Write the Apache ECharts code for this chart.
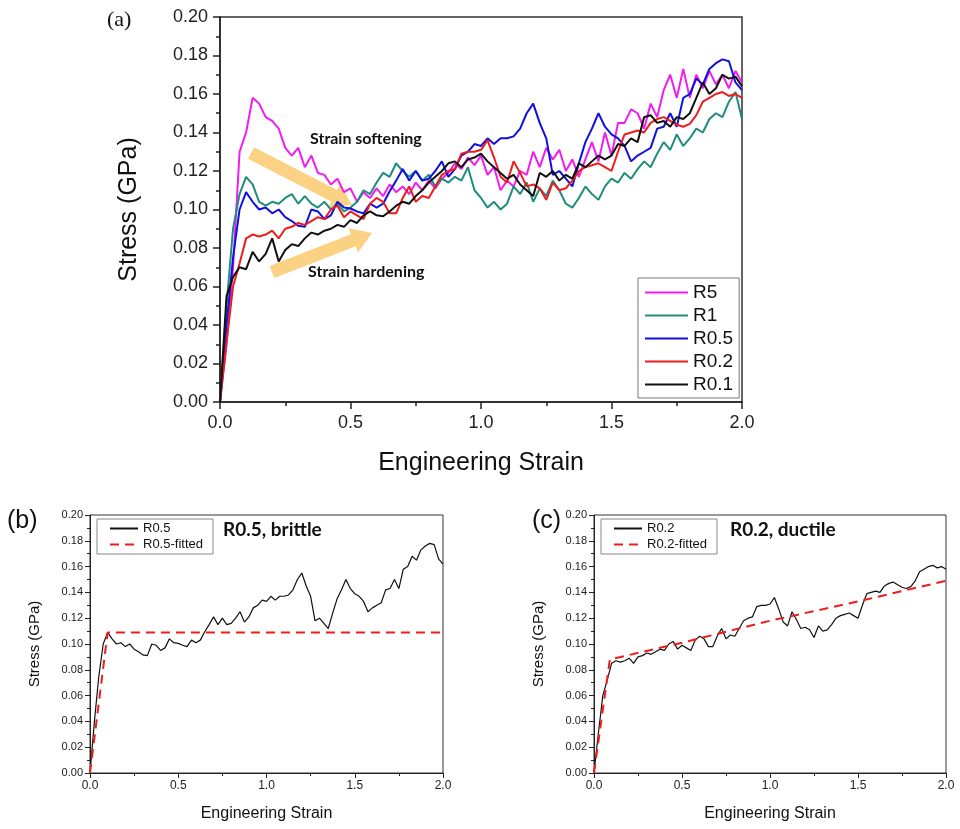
<!DOCTYPE html>
<html>
<head>
<meta charset="utf-8">
<script src="https://cdn.jsdelivr.net/npm/echarts@6/dist/echarts.min.js"></script>
<style>
html, body { margin: 0; padding: 0; background: #fff; }
#chart { width: 960px; height: 829px; }
</style>
</head>
<body>
<div id="chart"></div>
<script>
// strain grid shared by all measured curves
const strain = [0,0.025,0.05,0.075,0.1,0.125,0.15,0.175,0.2,0.225,0.25,0.275,0.3,0.325,0.35,0.375,0.4,0.425,0.45,0.475,
  0.5,0.525,0.55,0.575,0.6,0.625,0.65,0.675,0.7,0.725,0.75,0.775,0.8,0.825,0.85,0.875,0.9,0.925,0.95,0.975,
  1.0,1.025,1.05,1.075,1.1,1.125,1.15,1.175,1.2,1.225,1.25,1.275,1.3,1.325,1.35,1.375,1.4,1.425,1.45,1.475,
  1.5,1.525,1.55,1.575,1.6,1.625,1.65,1.675,1.7,1.725,1.75,1.775,1.8,1.825,1.85,1.875,1.9,1.925,1.95,1.975,2.0]

const stressR5 = [0,0.03,0.07,0.13,0.14,0.158,0.155,0.148,0.146,0.142,
  0.132,0.128,0.132,0.122,0.128,0.119,0.118,0.113,0.116,0.109,
  0.111,0.104,0.109,0.106,0.111,0.107,0.113,0.109,0.112,0.108,
  0.114,0.11,0.115,0.111,0.116,0.119,0.124,0.121,0.127,0.123,
  0.128,0.118,0.122,0.11,0.115,0.112,0.12,0.118,0.13,0.122,
  0.132,0.126,0.131,0.12,0.126,0.117,0.126,0.135,0.125,0.14,
  0.128,0.145,0.145,0.152,0.15,0.142,0.155,0.148,0.162,0.17,
  0.158,0.173,0.158,0.17,0.163,0.172,0.165,0.17,0.163,0.172,0.166]

const stressR1 = [0,0.05,0.09,0.108,0.117,0.113,0.104,0.102,0.104,0.103,
  0.106,0.108,0.103,0.107,0.103,0.101,0.104,0.1,0.103,0.099,
  0.101,0.104,0.11,0.108,0.114,0.119,0.117,0.124,0.12,0.117,
  0.12,0.115,0.118,0.112,0.116,0.114,0.117,0.115,0.122,0.11,
  0.106,0.101,0.104,0.1,0.103,0.112,0.108,0.114,0.104,0.111,
  0.107,0.115,0.11,0.103,0.101,0.106,0.112,0.108,0.105,0.112,
  0.116,0.114,0.119,0.116,0.121,0.125,0.122,0.129,0.135,0.131,
  0.139,0.133,0.137,0.142,0.14,0.147,0.15,0.148,0.156,0.161,0.147]

const stressR05 = [0,0.04,0.075,0.1,0.109,0.104,0.1,0.101,0.098,0.1,
  0.096,0.094,0.0915,0.091,0.1,0.099,0.095,0.097,0.104,0.101,
  0.1005,0.099,0.098,0.103,0.101,0.103,0.1095,0.115,0.121,0.115,
  0.12,0.115,0.116,0.12,0.125,0.117,0.121,0.128,0.13,0.134,
  0.133,0.137,0.134,0.137,0.137,0.138,0.142,0.15,0.155,0.145,
  0.137,0.118,0.12,0.116,0.112,0.124,0.135,0.142,0.15,0.143,
  0.139,0.137,0.133,0.125,0.128,0.13,0.132,0.142,0.143,0.15,
  0.143,0.158,0.16,0.168,0.165,0.173,0.176,0.178,0.177,0.166,0.162]

const stressR02 = [0,0.031,0.06,0.072,0.085,0.087,0.086,0.087,0.089,0.085,
  0.09,0.091,0.093,0.092,0.094,0.096,0.095,0.1,0.102,0.096,
  0.099,0.097,0.095,0.103,0.106,0.104,0.098,0.098,0.106,0.112,
  0.104,0.107,0.106,0.112,0.118,0.12,0.121,0.129,0.13,0.13,
  0.131,0.136,0.127,0.117,0.114,0.125,0.119,0.112,0.113,0.111,
  0.105,0.114,0.11,0.111,0.115,0.12,0.122,0.123,0.124,0.122,
  0.12,0.13,0.139,0.14,0.141,0.14,0.145,0.147,0.148,0.146,
  0.144,0.143,0.1445,0.149,0.156,0.158,0.16,0.161,0.159,0.16,0.158]

const stressR01 = [0,0.055,0.065,0.07,0.069,0.078,0.073,0.077,0.085,0.073,
  0.079,0.082,0.081,0.085,0.088,0.087,0.089,0.09,0.092,0.091,
  0.0945,0.093,0.097,0.099,0.097,0.0965,0.099,0.102,0.104,0.103,
  0.107,0.11,0.114,0.117,0.12,0.124,0.125,0.122,0.126,0.127,
  0.129,0.125,0.122,0.119,0.116,0.118,0.113,0.11,0.107,0.119,
  0.117,0.12,0.115,0.118,0.116,0.124,0.122,0.125,0.128,0.126,
  0.128,0.134,0.133,0.137,0.135,0.148,0.149,0.145,0.146,0.143,
  0.148,0.147,0.15,0.158,0.166,0.16,0.163,0.17,0.168,0.169,0.164]

// fitted curves (b) and (c)
const fitR05Strain = [0, 0.1, 2.0]
const fitR05Stress = [0, 0.109, 0.109]
const fitR02Strain = [0, 0.09, 0.5, 1.0, 1.5, 2.0]
const fitR02Stress = [0, 0.088, 0.101, 0.118, 0.133, 0.149]

const stressTicks = [0, 0.2, 0.02]
const strainTicks = [0, 2.0, 0.5]

const FONT = '"Liberation Sans", Arial, sans-serif'
const BOLD = 'Lato, "Open Sans", sans-serif'
const pair = (xs, ys) => xs.map((x, i) => [x, ys[i]])

function xAxisOf(grid, big) {
  return {
    gridIndex: grid, type: 'value',
    min: strainTicks[0], max: strainTicks[1], interval: strainTicks[2],
    axisLine: { show: true, onZero: false, lineStyle: { color: '#222', width: big ? 1.5 : 1 } },
    axisTick: { show: true, length: big ? 7 : 5, lineStyle: { color: '#222', width: big ? 1.5 : 1 } },
    minorTick: { show: true, splitNumber: 2, length: big ? 4 : 3, lineStyle: { color: '#222', width: big ? 1.5 : 1 } },
    splitLine: { show: false },
    axisLabel: { fontFamily: FONT, color: '#222', fontSize: big ? 18 : 12, margin: big ? 12 : 7,
      formatter: v => v.toFixed(1) },
    name: 'Engineering Strain', nameLocation: 'middle', nameGap: big ? 49 : 33,
    nameTextStyle: { fontFamily: FONT, color: '#111', fontSize: big ? 25 : 16 }
  }
}

function yAxisOf(grid, big) {
  return {
    gridIndex: grid, type: 'value',
    min: stressTicks[0], max: stressTicks[1], interval: stressTicks[2],
    axisLine: { show: true, onZero: false, lineStyle: { color: '#222', width: big ? 1.5 : 1 } },
    axisTick: { show: true, length: big ? 7 : 5, lineStyle: { color: '#222', width: big ? 1.5 : 1 } },
    minorTick: { show: true, splitNumber: 2, length: big ? 4 : 3, lineStyle: { color: '#222', width: big ? 1.5 : 1 } },
    splitLine: { show: false },
    axisLabel: { fontFamily: FONT, color: '#222', fontSize: big ? 18 : 11, margin: big ? 12 : 7,
      formatter: v => v.toFixed(2) },
    name: 'Stress (GPa)', nameLocation: 'middle', nameGap: big ? 78 : 48,
    nameTextStyle: { fontFamily: FONT, color: '#111', fontSize: big ? 25 : 15 }
  }
}

function lineSeries(name, grid, data, color, width, dashed) {
  return {
    name, type: 'line', xAxisIndex: grid, yAxisIndex: grid, data,
    symbol: 'none', showSymbol: false, smooth: false, animation: false,
    lineStyle: { color, width, type: dashed ? [9, 6] : 'solid' },
    itemStyle: { color }
  }
}

// thick arrow polygon for annotations
function arrow(x1, y1, x2, y2) {
  const len = Math.hypot(x2 - x1, y2 - y1)
  const ux = (x2 - x1) / len, uy = (y2 - y1) / len
  const nx = -uy, ny = ux
  const hw = 6.5, hh = 13, hl = 20
  const bx = x2 - ux * hl, by = y2 - uy * hl
  return {
    type: 'polygon', z: 1,
    shape: { points: [
      [x1 + nx * hw, y1 + ny * hw], [bx + nx * hw, by + ny * hw], [bx + nx * hh, by + ny * hh],
      [x2, y2],
      [bx - nx * hh, by - ny * hh], [bx - nx * hw, by - ny * hw], [x1 - nx * hw, y1 - ny * hw]
    ] },
    style: { fill: 'rgba(250,198,100,0.8)' }
  }
}

const label = (x, y, text, size, font, weight) => ({
  type: 'text', x, y, z: 10,
  style: { text, fontSize: size, fontFamily: font, fontWeight: weight || 'normal', fill: '#111',
    textVerticalAlign: 'middle' }
})

const legendBase = {
  orient: 'vertical', selectedMode: false, backgroundColor: '#fff', borderWidth: 1,
  itemStyle: { opacity: 0 }
}

const chart = echarts.init(document.getElementById('chart'))
chart.setOption({
  backgroundColor: '#fff',
  animation: false,
  grid: [
    { left: 220, top: 17, width: 522, height: 385, show: true, borderColor: '#333', borderWidth: 1.5 },
    { left: 90, top: 515, width: 353, height: 258, show: true, borderColor: '#333', borderWidth: 1 },
    { left: 594, top: 515, width: 352, height: 258, show: true, borderColor: '#333', borderWidth: 1 }
  ],
  xAxis: [xAxisOf(0, true), xAxisOf(1, false), xAxisOf(2, false)],
  yAxis: [yAxisOf(0, true), yAxisOf(1, false), yAxisOf(2, false)],
  legend: [
    Object.assign({}, legendBase, {
      data: ['R5', 'R1', 'R0.5', 'R0.2', 'R0.1'], left: 638, top: 278,
      itemWidth: 43, itemHeight: 14, itemGap: 4, padding: [5, 6, 4, 6], borderColor: '#777',
      textStyle: { fontFamily: FONT, fontSize: 19, color: '#111' }
    }),
    Object.assign({}, legendBase, {
      data: ['R0.5 b', 'R0.5-fitted'], left: 97, top: 519,
      itemWidth: 28, itemHeight: 12, itemGap: 3, padding: [3, 10, 3, 12], borderColor: '#888',
      formatter: n => n.replace(/ [bc]$/, ''),
      textStyle: { fontFamily: FONT, fontSize: 13, color: '#111' }
    }),
    Object.assign({}, legendBase, {
      data: ['R0.2 c', 'R0.2-fitted'], left: 601, top: 519,
      itemWidth: 28, itemHeight: 12, itemGap: 3, padding: [3, 10, 3, 12], borderColor: '#888',
      formatter: n => n.replace(/ [bc]$/, ''),
      textStyle: { fontFamily: FONT, fontSize: 13, color: '#111' }
    })
  ],
  series: [
    lineSeries('R5', 0, pair(strain, stressR5), '#f01cf0', 2),
    lineSeries('R1', 0, pair(strain, stressR1), '#1f8c7c', 2),
    lineSeries('R0.5', 0, pair(strain, stressR05), '#1010e0', 2),
    lineSeries('R0.2', 0, pair(strain, stressR02), '#ee1c1c', 2),
    lineSeries('R0.1', 0, pair(strain, stressR01), '#111111', 2),
    lineSeries('R0.5 b', 1, pair(strain, stressR05), '#111111', 1.2),
    lineSeries('R0.5-fitted', 1, pair(fitR05Strain, fitR05Stress), '#ee1c1c', 2, true),
    lineSeries('R0.2 c', 2, pair(strain, stressR02), '#111111', 1.2),
    lineSeries('R0.2-fitted', 2, pair(fitR02Strain, fitR02Stress), '#ee1c1c', 2, true)
  ],
  graphic: [
    arrow(251, 153, 352, 205),
    arrow(272, 272, 372, 233),
    label(310, 139, 'Strain softening', 16, BOLD, 'bold'),
    label(308, 272, 'Strain hardening', 16, BOLD, 'bold'),
    label(107, 20, '(a)', 22, '"Liberation Serif", serif'),
    label(7, 521, '(b)', 25, FONT),
    label(532, 521, '(c)', 25, FONT),
    label(223, 530, 'R0.5, brittle', 19, BOLD, 'bold'),
    label(730, 530, 'R0.2, ductile', 19, BOLD, 'bold')
  ]
})
</script>
</body>
</html>
